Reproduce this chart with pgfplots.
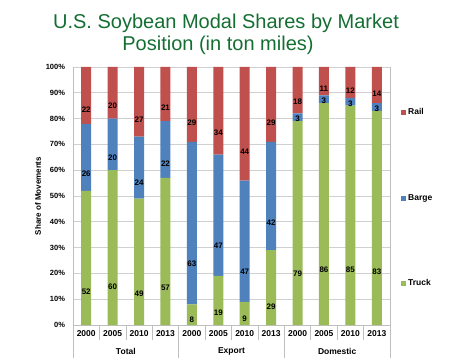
\documentclass[border=0pt]{standalone}
\usepackage{pgfplots}
\pgfplotsset{compat=1.18}
\usepackage{pgfplotstable}
\usepackage{fontspec}
\setmainfont{Liberation Sans}
\definecolor{rail}{HTML}{C0504D}
\definecolor{barge}{HTML}{4F81BD}
\definecolor{truck}{HTML}{9BBB59}
\definecolor{titlegreen}{RGB}{20,110,50}
\definecolor{gridc}{HTML}{D0D0D0}
\definecolor{axisc}{HTML}{BFBFBF}
\pgfplotstableread{
x truck barge rail
0 52 26 22
1 60 20 20
2 49 24 27
3 57 22 21
4 8 63 29
5 19 47 34
6 9 47 44
7 29 42 29
8 79 3 18
9 86 3 11
10 85 3 12
11 83 3 14
}\shares
\begin{document}
\begin{tikzpicture}
\path[use as bounding box] (0,0) rectangle (450pt,359pt);
\node[font=\fontsize{20}{24}\selectfont, text=titlegreen, anchor=base] at (226pt,330pt) {U.S. Soybean Modal Shares by Market};
\node[font=\fontsize{20}{24}\selectfont, text=titlegreen, anchor=base] at (218pt,308pt) {Position (in ton miles)};
\begin{axis}[
  at={(73pt,34pt)}, anchor=south west,
  width=317pt, height=258pt, scale only axis,
  ybar stacked, bar width=10pt,
  xmin=-0.5, xmax=11.5, ymin=0, ymax=100,
  xtick={0,...,11},
  xticklabels={2000,2005,2010,2013,2000,2005,2010,2013,2000,2005,2010,2013},
  ytick={0,10,...,100},
  yticklabel={\pgfmathprintnumber{\tick}\%},
  /pgf/number format/assume math mode=true,
  ticklabel style={font=\bfseries\fontsize{7.5}{9}\selectfont},
  xticklabel style={font=\bfseries\fontsize{8.5}{9}\selectfont, yshift=-2pt},
  yticklabel style={xshift=-4.5pt},
  major tick length=0pt,
  tick style={draw=none},
  ymajorgrids, grid style={gridc, line width=0.6pt},
  axis x line*=bottom, axis y line*=left,
  axis line style={axisc, line width=0.6pt},
  ylabel={Share of Movements},
  every axis y label/.style={at={(axis description cs:0,0.5)}, xshift=-35pt, rotate=90, anchor=center, font=\bfseries\fontsize{8}{9}\selectfont},
  clip=false,
  nodes near coords,
  point meta=explicit,
  visualization depends on=rawy \as \rawy,
  every node near coord/.append style={anchor=center, font=\bfseries\fontsize{8}{9}\selectfont, yshift={-0.645pt*\rawy}},
  legend style={at={(1,0.5)}, anchor=west, xshift=8pt, yshift=-2pt, draw=none, fill=none, font=\bfseries\fontsize{8.5}{10}\selectfont, row sep=74pt, legend cell align=left},
  reverse legend,
  legend image code/.code={\draw[#1,draw=none] (0pt,-2.5pt) rectangle (5pt,2.5pt);},
]
\addplot[fill=truck, draw=none] table[x=x, y=truck, meta=truck] {\shares};
\addplot[fill=barge, draw=none] table[x=x, y=barge, meta=barge] {\shares};
\addplot[fill=rail, draw=none] table[x=x, y=rail, meta=rail] {\shares};
\legend{Truck,Barge,Rail}
\foreach \s in {0.5,1.5,2.5,4.5,5.5,6.5,8.5,9.5,10.5} {
  \edef\temp{\noexpand\draw[axisc, line width=0.6pt] (axis cs:\s,0) -- ([yshift=-15pt]axis cs:\s,0);}\temp
}
\foreach \s in {-0.5,3.5,7.5,11.5} {
  \edef\temp{\noexpand\draw[axisc, line width=0.6pt] (axis cs:\s,0) -- ([yshift=-33pt]axis cs:\s,0);}\temp
}
\draw[axisc, line width=0.6pt] (axis cs:11.5,100) -- (axis cs:11.5,0);
\node[font=\bfseries\fontsize{8.5}{9}\selectfont] at ([yshift=-26pt]axis cs:1.5,0) {Total};
\node[font=\bfseries\fontsize{8.5}{9}\selectfont] at ([yshift=-26pt]axis cs:5.5,0) {Export};
\node[font=\bfseries\fontsize{8.5}{9}\selectfont] at ([yshift=-26pt]axis cs:9.5,0) {Domestic};
\end{axis}
\end{tikzpicture}
\end{document}
